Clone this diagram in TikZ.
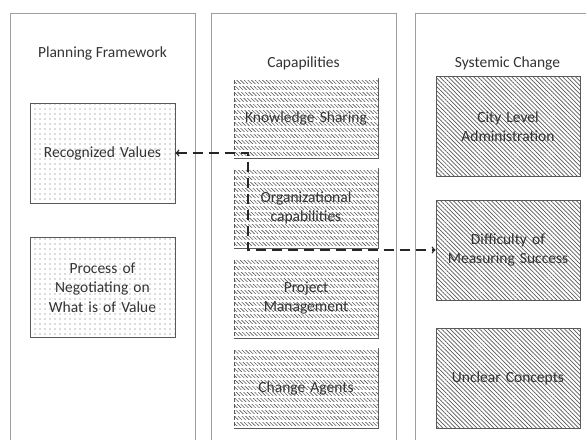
\documentclass[tikz,border=0pt]{standalone}
\usepackage{fontspec}
\setmainfont{Carlito}
\usetikzlibrary{arrows,patterns.meta}

\begin{document}
\begin{tikzpicture}[x=1pt,y=-1pt,
	every node/.style={font=\fontsize{15.5}{19.5}\selectfont, text=black!80},
	panel/.style={draw=gray!75, line width=0.9pt},
	valuebox/.style={draw=gray!70!black, line width=0.9pt, align=center,
		minimum width=145pt, minimum height=100pt, text width=135pt,
		pattern={Dots[distance=5pt,radius=0.55pt]}, pattern color=gray!85!black},
	capbox/.style={draw=gray!70!black, line width=0.9pt, align=center,
		minimum width=144pt, minimum height=80pt, text width=134pt,
		pattern={Lines[angle=-45,distance=2.6pt,line width=0.6pt]}, pattern color=gray!70!black,
		postaction={pattern={Lines[angle=0,distance=6pt,line width=1.3pt]}, pattern color=white}},
	changebox/.style={draw=gray!70!black, line width=0.9pt, align=center,
		minimum width=144pt, minimum height=100pt, text width=134pt,
		pattern={Lines[angle=-45,distance=3pt,line width=0.7pt]}, pattern color=gray!70!black},
	link/.style={dashed, dash pattern=on 10pt off 6pt, line width=1.5pt, black!85}
	]
	\clip (0,0) rectangle (586,439);
	\fill[white] (0,0) rectangle (586,439);
	\draw[panel]
		(10,13) rectangle (195,460)
		(211,13) rectangle (396,460)
		(415,13) rectangle (600,460);

	\node (plantitle) at (102.5,53) {Planning Framework};
	\node (captitle) at (303.5,63) {Capapilities};
	\node (systitle) at (507.5,63) {Systemic Change};

	\node[valuebox] (rv) at (102.5,153) {Recognized Values};
	\node[valuebox] (pn) at (102.5,287.5) {Process of\\Negotiating on\\What is of Value};

	\node[capbox] (ks) at (306,118.5) {Knowledge Sharing};
	\node[capbox] (oc) at (306,208) {Organizational\\capabilities};
	\node[capbox] (pm) at (306,298) {Project\\Management};
	\node[capbox] (ca) at (306,388.5) {Change Agents};

	\node[changebox] (cl) at (508,126.5) {City Level\\Administration};
	\node[changebox] (dm) at (508,250) {Difficulty of\\Measuring Success};
	\node[changebox] (uc) at (508,378) {Unclear Concepts};

	\coordinate (jn) at (248,153);
	\draw[link,<->] (rv.east) -- (jn) -- (jn |- dm.west) -- (dm.west);
\end{tikzpicture}
\end{document}
